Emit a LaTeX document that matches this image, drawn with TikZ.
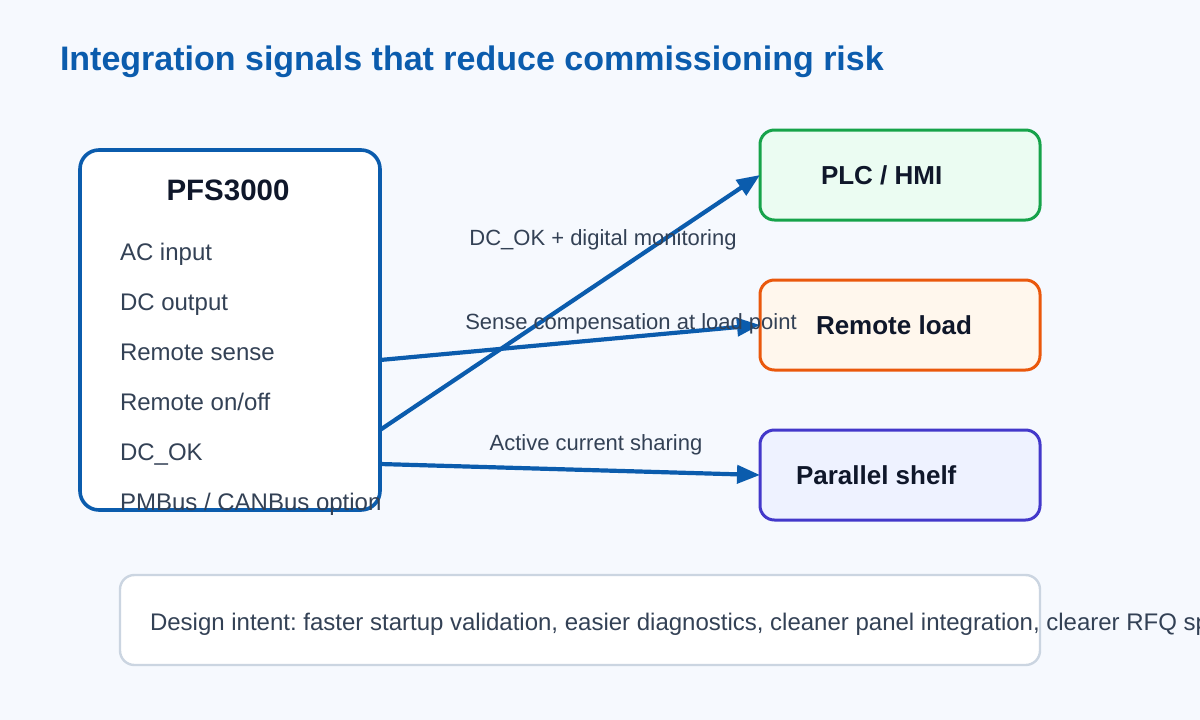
\documentclass[tikz,border=0pt]{standalone}
\usepackage{fontspec}
\setmainfont{Liberation Sans}
\usetikzlibrary{arrows.meta}
\frenchspacing
\definecolor{bg}{HTML}{F6F9FE}
\definecolor{mainblue}{HTML}{0B5CAD}
\definecolor{dark}{HTML}{0F172A}
\definecolor{slate}{HTML}{334155}
\definecolor{gstroke}{HTML}{16A34A}
\definecolor{gfill}{HTML}{EBFCF2}
\definecolor{ostroke}{HTML}{EA580C}
\definecolor{ofill}{HTML}{FFF7ED}
\definecolor{istroke}{HTML}{4338CA}
\definecolor{ifill}{HTML}{EEF2FF}
\definecolor{notestroke}{HTML}{CBD5E1}
\tikzset{
  txt/.style={inner sep=0pt, outer sep=0pt, anchor=base west},
  item/.style={txt, text=slate, font=\fontsize{24}{28}\selectfont},
  boxlabel/.style={txt, text=dark, font=\bfseries\fontsize{26}{30}\selectfont},
  edgelabel/.style={inner sep=0pt, outer sep=0pt, anchor=base, text=slate, font=\fontsize{22}{26}\selectfont},
  target/.style={draw, line width=3pt, rounded corners=14.4pt, minimum width=280pt, minimum height=90pt, inner sep=0pt, outer sep=0pt},
  conn/.style={draw=mainblue, line width=4.2pt, -{Triangle[length=23pt,width=18pt]}},
}
\begin{document}
\begin{tikzpicture}[x=1pt,y=-1pt]
\useasboundingbox (0,0) rectangle (1200,720);
\fill[bg] (0,0) rectangle (1200,720);
% title
\node[txt, text=mainblue, font=\bfseries\fontsize{34}{40}\selectfont] (title) at (60,70) {Integration signals that reduce commissioning risk};
% left box
\node[draw=mainblue, fill=white, line width=3.6pt, rounded corners=19pt, minimum width=300pt, minimum height=360pt, inner sep=0pt, outer sep=0pt] (pfs) at (230,330) {};
\node[inner sep=0pt, anchor=base, text=dark, font=\bfseries\fontsize{29.5}{34}\selectfont] (pfstitle) at (228,200) {PFS3000};
\node[item] (i1) at (120,260) {AC input};
\node[item] (i2) at (120,310) {DC output};
\node[item] (i3) at (120,360) {Remote sense};
\node[item] (i4) at (120,410) {Remote on/off};
\node[item] (i5) at (120,460) {DC\_OK};
\node[item] (i6) at (120,510) {PMBus / CANBus option};
% right boxes
\node[target, draw=gstroke, fill=gfill] (plc) at (900,175) {};
\node[boxlabel] (plcl) at (821,184) {PLC / HMI};
\node[target, draw=ostroke, fill=ofill] (load) at (900,325) {};
\node[boxlabel] (loadl) at (816,334) {Remote load};
\node[target, draw=istroke, fill=ifill] (shelf) at (900,475) {};
\node[boxlabel] (shelfl) at (796,484) {Parallel shelf};
% connectors
\draw[conn] ([yshift=-100pt]pfs.east) -- (plc.west);
\node[edgelabel] (l1) at (603,245) {DC\_OK + digital monitoring};
\draw[conn] ([yshift=-30pt]pfs.east) -- (load.west);
\node[edgelabel] (l2) at (631,329) {Sense compensation at load point};
\draw[conn] ([yshift=-134pt]pfs.east) -- (shelf.west);
\node[edgelabel] (l3) at (596,450) {Active current sharing};
% note
\node[draw=notestroke, fill=white, line width=2.4pt, rounded corners=14.4pt, minimum width=920pt, minimum height=90pt, inner sep=0pt, outer sep=0pt] (note) at (580,620) {};
\begin{scope}
\clip (0,0) rectangle (1200,720);
\node[item, font=\fontsize{24}{28}\selectfont] (notetext) at (150,630) {Design intent: faster startup validation, easier diagnostics, cleaner panel integration, clearer RFQ specs};
\end{scope}
\end{tikzpicture}
\end{document}
